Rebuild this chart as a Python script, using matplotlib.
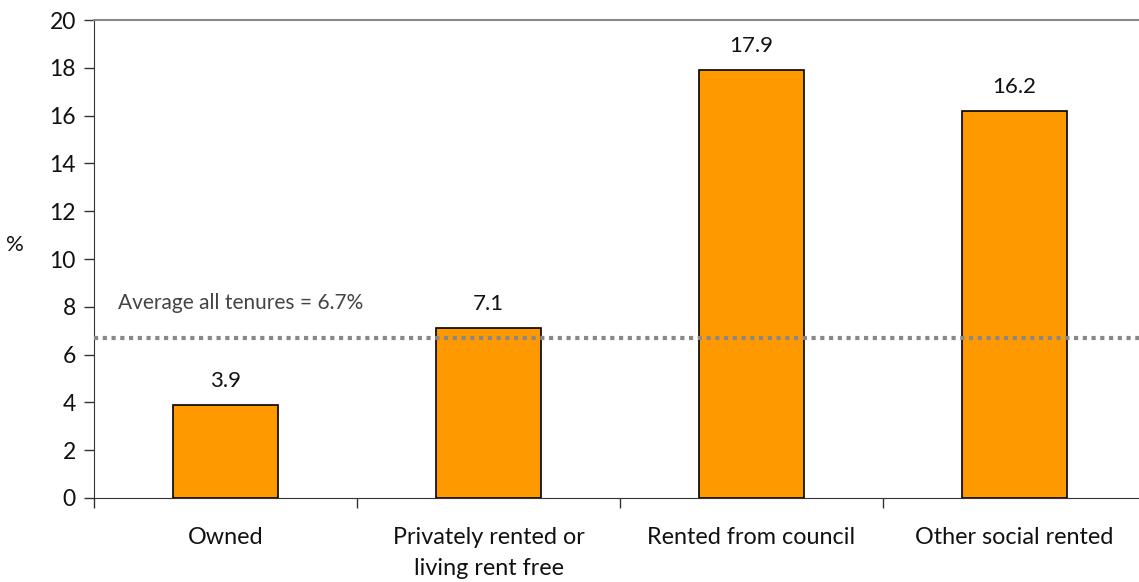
import matplotlib
matplotlib.use("Agg")
import matplotlib.pyplot as plt
import numpy as np

categories = ["Owned", "Privately rented or\nliving rent free", "Rented from council", "Other social rented"]
values = [3.9, 7.1, 17.9, 16.2]
average = 6.7
avg_label = "Average all tenures = 6.7%"
yticks = [0, 2, 4, 6, 8, 10, 12, 14, 16, 18, 20]

plt.rcParams['font.family'] = ['Lato', 'DejaVu Sans']

fig = plt.figure(figsize=(11.39, 5.82), dpi=100)
ax = fig.add_axes([94/1139, 84/582, 1052/1139, 478/582])

x = np.arange(len(categories))
ax.bar(x, values, width=0.4, color="#FF9900", edgecolor="black", linewidth=1.2, zorder=2)
for xi, v in zip(x, values):
    ax.text(xi, v + 1.0, f"{v}", ha="center", va="center", fontsize=16, color="#111111")

ax.axhline(average, color="#888888", linewidth=3.0, linestyle=(0, (1, 1.1)),
           dash_capstyle="butt", zorder=3)
ax.text(-0.41, 8.15, avg_label, ha="left", va="center", fontsize=15, color="#444444")

ax.set_xlim(-0.5, len(categories) - 0.5)
ax.set_ylim(0, 20)
ax.set_yticks(yticks)
ax.set_yticklabels([str(t) for t in yticks], fontsize=16.5, color="#111111")
ax.set_xticks(x)
ax.set_xticklabels(categories, fontsize=16.8, color="#111111", linespacing=1.6)
ax.tick_params(axis="x", length=0, pad=21)
ax.set_xticks(np.arange(-0.5, len(categories) + 0.5, 1), minor=True)
ax.tick_params(axis="x", which="minor", length=7, width=1, color="#333333", direction="out")
ax.tick_params(axis="y", length=7, width=1, color="#333333", direction="out", pad=6)

ax.spines["left"].set_color("#333333")
ax.spines["bottom"].set_color("#333333")
ax.spines["right"].set_visible(False)
ax.spines["top"].set_color("#888888")
ax.spines["top"].set_linewidth(1.5)

fig.text(15/1139, 1 - 245/582, "%", ha="center", va="center", fontsize=16, color="#111111")

fig.savefig("out.png", dpi=100)
